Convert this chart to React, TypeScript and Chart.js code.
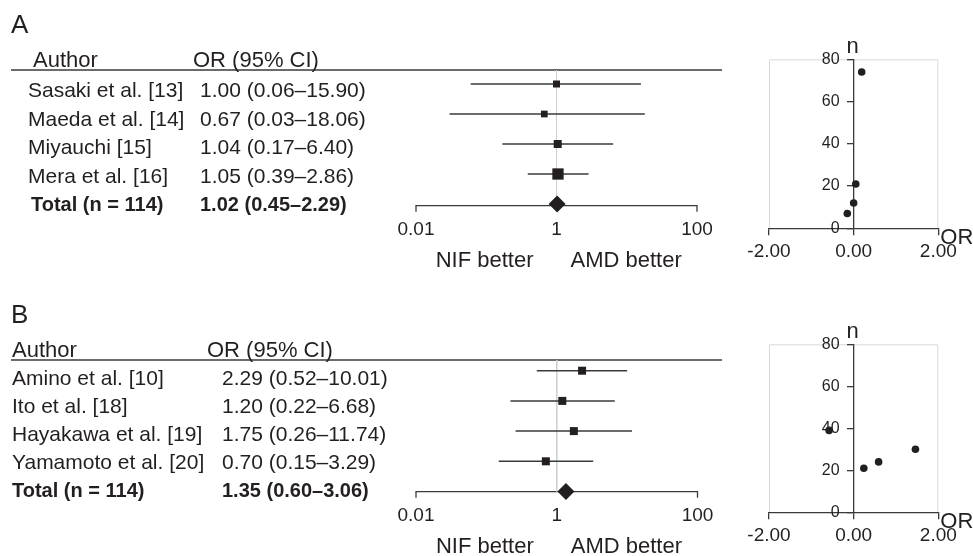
import React, { useEffect, useRef } from "react";
import { Chart, registerables } from "chart.js";

Chart.register(...registerables);

const FONT = "'Liberation Sans', Arial, Helvetica, sans-serif";
const INK = "#231f20";
const LINE = "#3a3a3a";
const REF = "#cfcfcf";
const FRAME = "#d9d9d9";

// ---------------- Panel A data ----------------
const authorsA = ["Sasaki et al. [13]", "Maeda et al. [14]", "Miyauchi [15]", "Mera et al. [16]"];
const ciTextA = ["1.00 (0.06–15.90)", "0.67 (0.03–18.06)", "1.04 (0.17–6.40)", "1.05 (0.39–2.86)"];
const orA = [1.0, 0.67, 1.04, 1.05];
const lowerA = [0.06, 0.03, 0.17, 0.39];
const upperA = [15.9, 18.06, 6.4, 2.86];
const totalLabelA = "Total (n = 114)";
const totalOrA = 1.02;
const totalTextA = "1.02 (0.45–2.29)";
const funnelOrA = [0.19, 0.05, 0.0, -0.15];
const funnelNA = [74, 21, 12, 7];

// ---------------- Panel B data ----------------
const authorsB = ["Amino et al. [10]", "Ito et al. [18]", "Hayakawa et al. [19]", "Yamamoto et al. [20]"];
const ciTextB = ["2.29 (0.52–10.01)", "1.20 (0.22–6.68)", "1.75 (0.26–11.74)", "0.70 (0.15–3.29)"];
const orB = [2.29, 1.2, 1.75, 0.7];
const lowerB = [0.52, 0.22, 0.26, 0.15];
const upperB = [10.01, 6.68, 11.74, 3.29];
const totalLabelB = "Total (n = 114)";
const totalOrB = 1.35;
const totalTextB = "1.35 (0.60–3.06)";
const funnelOrB = [-0.58, 0.24, 0.59, 1.46];
const funnelNB = [39, 21, 24, 30];

// ---------------- Axis ticks / labels ----------------
const forestTicks = [0.01, 1, 100];
const forestTickLabels = ["0.01", "1", "100"];
const headerAuthor = "Author";
const headerOr = "OR (95% CI)";
const leftBetter = "NIF better";
const rightBetter = "AMD better";
const funnelXMin = -2;
const funnelXMax = 2;
const funnelXStep = 2;
const funnelYMin = 0;
const funnelYMax = 80;
const funnelYStep = 20;
const funnelXTitle = "OR";
const funnelYTitle = "n";

// ---------------- Styling (marker sizes, layout) ----------------
const markerSideA = [7, 6.7, 8, 11.3];
const markerSideB = [8, 8, 8, 8];

type ForestCfg = {
  top: number;
  label: string;
  authors: string[];
  ciText: string[];
  or: number[];
  lower: number[];
  upper: number[];
  totalLabel: string;
  totalOr: number;
  totalText: string;
  sides: number[];
  labelX: number;
  labelY: number;
  headerY: number;
  authorX: number;
  orHeaderX: number;
  nameX: number;
  totalNameX: number;
  orX: number;
  rowY0: number;
  rowStep: number;
  lineX0: number;
  lineX1: number;
  padTop: number;
  padBottom: number;
  padLeft: number;
  padRight: number;
  yMin: number;
  yMax: number;
};

type FunnelCfg = {
  top: number;
  xs: number[];
  ns: number[];
  padTop: number;
  padBottom: number;
};

const W_FOREST = 740;
const H_PANEL = 278;
const W_FUNNEL = 233;

const forestA: ForestCfg = {
  top: 0,
  label: "A",
  authors: authorsA,
  ciText: ciTextA,
  or: orA,
  lower: lowerA,
  upper: upperA,
  totalLabel: totalLabelA,
  totalOr: totalOrA,
  totalText: totalTextA,
  sides: markerSideA,
  labelX: 11,
  labelY: 33,
  headerY: 67,
  authorX: 33,
  orHeaderX: 193,
  nameX: 28,
  totalNameX: 31,
  orX: 200,
  rowY0: 97,
  rowStep: 28.6,
  lineX0: 11,
  lineX1: 722,
  padTop: 70,
  padBottom: H_PANEL - 205.7,
  padLeft: 416,
  padRight: W_FOREST - 697,
  yMin: -14 / 30,
  yMax: 4 + 1.7 / 30,
};

const forestB: ForestCfg = {
  top: 278,
  label: "B",
  authors: authorsB,
  ciText: ciTextB,
  or: orB,
  lower: lowerB,
  upper: upperB,
  totalLabel: totalLabelB,
  totalOr: totalOrB,
  totalText: totalTextB,
  sides: markerSideB,
  labelX: 11,
  labelY: 323 - 278,
  headerY: 357 - 278,
  authorX: 12,
  orHeaderX: 207,
  nameX: 12,
  totalNameX: 12,
  orX: 222,
  rowY0: 385 - 278,
  rowStep: 28,
  lineX0: 11,
  lineX1: 722,
  padTop: 360 - 278,
  padBottom: H_PANEL - (491.7 - 278),
  padLeft: 416,
  padRight: W_FOREST - 697.5,
  yMin: -10.7 / 30.2,
  yMax: 4 + 0.2 / 30.2,
};

const funnelA: FunnelCfg = {
  top: 0,
  xs: funnelOrA,
  ns: funnelNA,
  padTop: 59.3,
  padBottom: H_PANEL - 228.3,
};

const funnelB: FunnelCfg = {
  top: 278,
  xs: funnelOrB,
  ns: funnelNB,
  padTop: 344.3 - 278,
  padBottom: H_PANEL - (512.3 - 278),
};

function ForestChart({ cfg }: { cfg: ForestCfg }) {
  const ref = useRef<HTMLCanvasElement>(null);
  useEffect(() => {
    const canvas = ref.current!;
    const n = cfg.or.length;
    const decor = {
      id: "forestDecor",
      beforeDatasetsDraw(chart: any) {
        const { ctx, chartArea } = chart;
        const xs = chart.scales.x;
        ctx.save();
        ctx.strokeStyle = LINE;
        ctx.lineWidth = 1.3;
        ctx.beginPath();
        ctx.moveTo(cfg.lineX0, chartArea.top);
        ctx.lineTo(cfg.lineX1, chartArea.top);
        ctx.stroke();
        const a = xs.getPixelForValue(forestTicks[0]);
        const b = xs.getPixelForValue(forestTicks[forestTicks.length - 1]);
        const ay = chartArea.bottom;
        ctx.beginPath();
        ctx.moveTo(a, ay + 6);
        ctx.lineTo(a, ay);
        ctx.lineTo(b, ay);
        ctx.lineTo(b, ay + 6);
        ctx.stroke();
        ctx.restore();
      },
      afterDraw(chart: any) {
        const { ctx, chartArea } = chart;
        const xs = chart.scales.x;
        ctx.save();
        ctx.fillStyle = INK;
        ctx.textBaseline = "alphabetic";
        ctx.textAlign = "left";
        ctx.font = `26px ${FONT}`;
        ctx.fillText(cfg.label, cfg.labelX, cfg.labelY);
        ctx.font = `22px ${FONT}`;
        ctx.fillText(headerAuthor, cfg.authorX, cfg.headerY);
        ctx.fillText(headerOr, cfg.orHeaderX, cfg.headerY);
        ctx.font = `21px ${FONT}`;
        for (let i = 0; i < n; i++) {
          const y = cfg.rowY0 + i * cfg.rowStep;
          ctx.fillText(cfg.authors[i], cfg.nameX, y);
          ctx.fillText(cfg.ciText[i], cfg.orX, y);
        }
        ctx.font = `bold 20px ${FONT}`;
        const ty = cfg.rowY0 + n * cfg.rowStep;
        ctx.fillText(cfg.totalLabel, cfg.totalNameX, ty);
        ctx.fillText(cfg.totalText, cfg.orX, ty);
        ctx.font = `19px ${FONT}`;
        ctx.textAlign = "center";
        forestTicks.forEach((t, i) => {
          ctx.fillText(forestTickLabels[i], xs.getPixelForValue(t), chartArea.bottom + 29);
        });
        ctx.font = `22px ${FONT}`;
        const one = xs.getPixelForValue(1);
        ctx.textAlign = "right";
        ctx.fillText(leftBetter, one - 23, chartArea.bottom + 61.5);
        ctx.textAlign = "left";
        ctx.fillText(rightBetter, one + 14, chartArea.bottom + 61.5);
        ctx.restore();
      },
    };

    const ciSets = cfg.or.map((_, i) => ({
      type: "scatter" as const,
      data: [
        { x: cfg.lower[i], y: i },
        { x: cfg.upper[i], y: i },
      ],
      showLine: true,
      borderColor: LINE,
      borderWidth: 1.5,
      pointRadius: 0,
      clip: false,
      order: 2,
    }));

    const chart = new Chart(canvas, {
      type: "scatter",
      data: {
        datasets: [
          {
            data: [{ x: cfg.totalOr, y: n }],
            pointStyle: "rectRot",
            pointRadius: 8.5,
            backgroundColor: INK,
            borderColor: INK,
            borderWidth: 0,
            clip: false,
            order: 0,
          },
          {
            data: cfg.or.map((v, i) => ({ x: v, y: i })),
            pointStyle: "rect",
            pointRadius: cfg.sides.map((s) => s / Math.SQRT2),
            backgroundColor: INK,
            borderColor: INK,
            borderWidth: 0,
            clip: false,
            order: 1,
          },
          ...ciSets,
          {
            data: [
              { x: 1, y: cfg.yMin },
              { x: 1, y: cfg.yMax },
            ],
            showLine: true,
            borderColor: REF,
            borderWidth: 1,
            pointRadius: 0,
            order: 3,
          },
        ] as any,
      },
      options: {
        responsive: false,
        animation: false,
        events: [],
        layout: {
          padding: { left: cfg.padLeft, right: cfg.padRight, top: cfg.padTop, bottom: cfg.padBottom },
        },
        plugins: { legend: { display: false }, tooltip: { enabled: false } },
        scales: {
          x: { type: "logarithmic", min: forestTicks[0], max: forestTicks[forestTicks.length - 1], display: false },
          y: { type: "linear", min: cfg.yMin, max: cfg.yMax, reverse: true, display: false },
        },
      } as any,
      plugins: [decor],
    });
    return () => chart.destroy();
  }, [cfg]);
  return (
    <canvas
      ref={ref}
      width={W_FOREST}
      height={H_PANEL}
      style={{ position: "absolute", left: 0, top: cfg.top, width: W_FOREST, height: H_PANEL }}
    />
  );
}

function FunnelChart({ cfg }: { cfg: FunnelCfg }) {
  const ref = useRef<HTMLCanvasElement>(null);
  useEffect(() => {
    const canvas = ref.current!;
    const decor = {
      id: "funnelDecor",
      beforeDraw(chart: any) {
        const { ctx, chartArea } = chart;
        ctx.save();
        ctx.strokeStyle = FRAME;
        ctx.lineWidth = 1;
        ctx.beginPath();
        ctx.moveTo(chartArea.left + 0.5, chartArea.bottom);
        ctx.lineTo(chartArea.left + 0.5, chartArea.top + 0.5);
        ctx.lineTo(chartArea.right - 0.5, chartArea.top + 0.5);
        ctx.lineTo(chartArea.right - 0.5, chartArea.bottom);
        ctx.stroke();
        ctx.restore();
      },
      afterDraw(chart: any) {
        const { ctx, chartArea } = chart;
        const xs = chart.scales.x;
        const ys = chart.scales.y;
        const axisX = xs.getPixelForValue(0);
        ctx.save();
        ctx.fillStyle = INK;
        // y tick labels (left of the centred axis)
        ctx.font = `16px ${FONT}`;
        ctx.textAlign = "right";
        ctx.textBaseline = "middle";
        ys.ticks.forEach((t: any) => {
          ctx.fillText(String(t.value), axisX - 14, ys.getPixelForValue(t.value));
        });
        ctx.font = `22px ${FONT}`;
        ctx.textBaseline = "alphabetic";
        ctx.textAlign = "center";
        ctx.fillText(funnelYTitle, axisX - 1, chartArea.top - 6);
        ctx.textAlign = "left";
        ctx.fillText(funnelXTitle, chartArea.right + 2, chartArea.bottom + 15.5);
        ctx.restore();
      },
    };
    const axisGrid = {
      drawOnChartArea: false,
      drawTicks: true,
      tickLength: 6,
      color: LINE,
      lineWidth: 1.3,
    };
    const chart = new Chart(canvas, {
      type: "scatter",
      data: {
        datasets: [
          {
            data: cfg.xs.map((x, i) => ({ x, y: cfg.ns[i] })),
            pointRadius: 3.8,
            backgroundColor: INK,
            borderColor: INK,
            borderWidth: 0,
            clip: false,
          },
        ],
      },
      options: {
        responsive: false,
        animation: false,
        events: [],
        layout: {
          padding: { left: 29, right: W_FUNNEL - 198.3, top: cfg.padTop, bottom: cfg.padBottom },
        },
        plugins: { legend: { display: false }, tooltip: { enabled: false } },
        scales: {
          x: {
            type: "linear",
            min: funnelXMin,
            max: funnelXMax,
            position: { y: 0 },
            grid: axisGrid,
            border: { display: true, color: LINE, width: 1.3 },
            ticks: {
              stepSize: funnelXStep,
              autoSkip: false,
              maxRotation: 0,
              padding: 6,
              color: INK,
              font: { family: FONT, size: 19 },
              callback: (v: any) => Number(v).toFixed(2),
            },
          },
          y: {
            type: "linear",
            min: funnelYMin,
            max: funnelYMax,
            position: { x: 0 },
            grid: axisGrid,
            border: { display: true, color: LINE, width: 1.3 },
            ticks: {
              stepSize: funnelYStep,
              autoSkip: false,
              display: false,
              color: INK,
              font: { family: FONT, size: 16 },
            },
          },
        },
      } as any,
      plugins: [decor],
    });
    return () => chart.destroy();
  }, [cfg]);
  return (
    <canvas
      ref={ref}
      width={W_FUNNEL}
      height={H_PANEL}
      style={{ position: "absolute", left: W_FOREST, top: cfg.top, width: W_FUNNEL, height: H_PANEL }}
    />
  );
}

export default function App() {
  return (
    <div
      style={{
        position: "fixed",
        left: 0,
        top: 0,
        width: 973,
        height: 556,
        background: "#ffffff",
        overflow: "hidden",
      }}
    >
      <ForestChart cfg={forestA} />
      <FunnelChart cfg={funnelA} />
      <ForestChart cfg={forestB} />
      <FunnelChart cfg={funnelB} />
    </div>
  );
}
